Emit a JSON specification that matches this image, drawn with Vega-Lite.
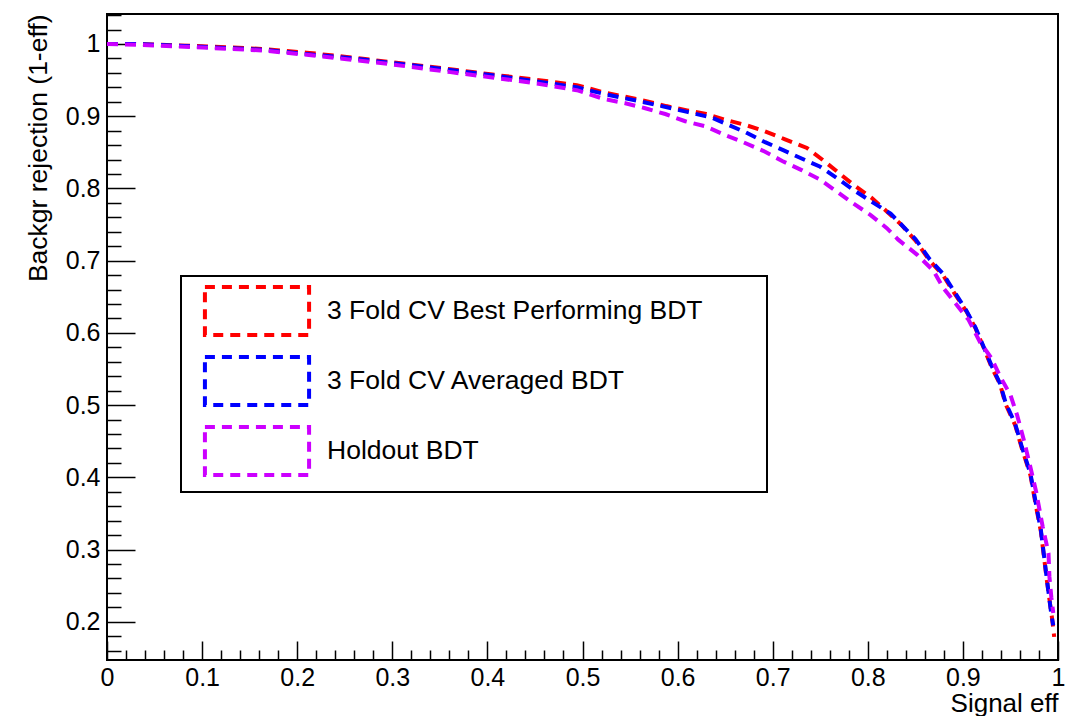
{
  "$schema": "https://vega.github.io/schema/vega-lite/v6.json",
  "width": 951,
  "height": 646,
  "autosize": {"type": "none"},
  "padding": {"left": 107, "top": 14, "right": 24, "bottom": 56},
  "background": "white",
  "config": {
    "view": {"stroke": "black", "strokeWidth": 2},
    "font": "Liberation Sans",
    "axis": {
      "domain": false,
      "grid": false,
      "labelFont": "Liberation Sans",
      "titleFont": "Liberation Sans",
      "labelColor": "black",
      "titleColor": "black",
      "tickColor": "black",
      "titleFontWeight": "normal",
      "labelFlush": false,
      "labelOverlap": false,
      "labelBound": false
    }
  },
  "data": {
    "values": [
      {"s": "3 Fold CV Best Performing BDT", "x": 0, "y": 1.0},
      {"s": "3 Fold CV Best Performing BDT", "x": 0.03, "y": 1.0},
      {"s": "3 Fold CV Best Performing BDT", "x": 0.1, "y": 0.997},
      {"s": "3 Fold CV Best Performing BDT", "x": 0.164, "y": 0.993},
      {"s": "3 Fold CV Best Performing BDT", "x": 0.21, "y": 0.988},
      {"s": "3 Fold CV Best Performing BDT", "x": 0.252, "y": 0.982},
      {"s": "3 Fold CV Best Performing BDT", "x": 0.298, "y": 0.975},
      {"s": "3 Fold CV Best Performing BDT", "x": 0.361, "y": 0.965},
      {"s": "3 Fold CV Best Performing BDT", "x": 0.403, "y": 0.958},
      {"s": "3 Fold CV Best Performing BDT", "x": 0.448, "y": 0.951},
      {"s": "3 Fold CV Best Performing BDT", "x": 0.494, "y": 0.943},
      {"s": "3 Fold CV Best Performing BDT", "x": 0.522, "y": 0.933},
      {"s": "3 Fold CV Best Performing BDT", "x": 0.545, "y": 0.927},
      {"s": "3 Fold CV Best Performing BDT", "x": 0.566, "y": 0.921},
      {"s": "3 Fold CV Best Performing BDT", "x": 0.588, "y": 0.914},
      {"s": "3 Fold CV Best Performing BDT", "x": 0.61, "y": 0.908},
      {"s": "3 Fold CV Best Performing BDT", "x": 0.63, "y": 0.903},
      {"s": "3 Fold CV Best Performing BDT", "x": 0.65, "y": 0.895},
      {"s": "3 Fold CV Best Performing BDT", "x": 0.671, "y": 0.888},
      {"s": "3 Fold CV Best Performing BDT", "x": 0.69, "y": 0.88},
      {"s": "3 Fold CV Best Performing BDT", "x": 0.713, "y": 0.868},
      {"s": "3 Fold CV Best Performing BDT", "x": 0.736, "y": 0.856},
      {"s": "3 Fold CV Best Performing BDT", "x": 0.752, "y": 0.84},
      {"s": "3 Fold CV Best Performing BDT", "x": 0.769, "y": 0.822},
      {"s": "3 Fold CV Best Performing BDT", "x": 0.785, "y": 0.805},
      {"s": "3 Fold CV Best Performing BDT", "x": 0.804, "y": 0.787},
      {"s": "3 Fold CV Best Performing BDT", "x": 0.82, "y": 0.768},
      {"s": "3 Fold CV Best Performing BDT", "x": 0.835, "y": 0.75},
      {"s": "3 Fold CV Best Performing BDT", "x": 0.85, "y": 0.728},
      {"s": "3 Fold CV Best Performing BDT", "x": 0.865, "y": 0.7},
      {"s": "3 Fold CV Best Performing BDT", "x": 0.879, "y": 0.68},
      {"s": "3 Fold CV Best Performing BDT", "x": 0.891, "y": 0.655},
      {"s": "3 Fold CV Best Performing BDT", "x": 0.904, "y": 0.629},
      {"s": "3 Fold CV Best Performing BDT", "x": 0.913, "y": 0.607},
      {"s": "3 Fold CV Best Performing BDT", "x": 0.922, "y": 0.579},
      {"s": "3 Fold CV Best Performing BDT", "x": 0.93, "y": 0.553},
      {"s": "3 Fold CV Best Performing BDT", "x": 0.939, "y": 0.529},
      {"s": "3 Fold CV Best Performing BDT", "x": 0.945, "y": 0.501},
      {"s": "3 Fold CV Best Performing BDT", "x": 0.955, "y": 0.472},
      {"s": "3 Fold CV Best Performing BDT", "x": 0.962, "y": 0.44},
      {"s": "3 Fold CV Best Performing BDT", "x": 0.971, "y": 0.403},
      {"s": "3 Fold CV Best Performing BDT", "x": 0.977, "y": 0.359},
      {"s": "3 Fold CV Best Performing BDT", "x": 0.982, "y": 0.325},
      {"s": "3 Fold CV Best Performing BDT", "x": 0.988, "y": 0.26},
      {"s": "3 Fold CV Best Performing BDT", "x": 0.994, "y": 0.202},
      {"s": "3 Fold CV Best Performing BDT", "x": 0.996, "y": 0.179},
      {"s": "3 Fold CV Averaged BDT", "x": 0, "y": 1.0},
      {"s": "3 Fold CV Averaged BDT", "x": 0.03, "y": 1.0},
      {"s": "3 Fold CV Averaged BDT", "x": 0.1, "y": 0.996},
      {"s": "3 Fold CV Averaged BDT", "x": 0.164, "y": 0.992},
      {"s": "3 Fold CV Averaged BDT", "x": 0.21, "y": 0.986},
      {"s": "3 Fold CV Averaged BDT", "x": 0.252, "y": 0.981},
      {"s": "3 Fold CV Averaged BDT", "x": 0.298, "y": 0.974},
      {"s": "3 Fold CV Averaged BDT", "x": 0.361, "y": 0.964},
      {"s": "3 Fold CV Averaged BDT", "x": 0.403, "y": 0.957},
      {"s": "3 Fold CV Averaged BDT", "x": 0.448, "y": 0.949},
      {"s": "3 Fold CV Averaged BDT", "x": 0.494, "y": 0.94},
      {"s": "3 Fold CV Averaged BDT", "x": 0.522, "y": 0.931},
      {"s": "3 Fold CV Averaged BDT", "x": 0.566, "y": 0.919},
      {"s": "3 Fold CV Averaged BDT", "x": 0.61, "y": 0.906},
      {"s": "3 Fold CV Averaged BDT", "x": 0.636, "y": 0.898},
      {"s": "3 Fold CV Averaged BDT", "x": 0.671, "y": 0.878},
      {"s": "3 Fold CV Averaged BDT", "x": 0.692, "y": 0.864},
      {"s": "3 Fold CV Averaged BDT", "x": 0.711, "y": 0.853},
      {"s": "3 Fold CV Averaged BDT", "x": 0.731, "y": 0.841},
      {"s": "3 Fold CV Averaged BDT", "x": 0.75, "y": 0.83},
      {"s": "3 Fold CV Averaged BDT", "x": 0.769, "y": 0.813},
      {"s": "3 Fold CV Averaged BDT", "x": 0.787, "y": 0.796},
      {"s": "3 Fold CV Averaged BDT", "x": 0.806, "y": 0.78},
      {"s": "3 Fold CV Averaged BDT", "x": 0.824, "y": 0.765},
      {"s": "3 Fold CV Averaged BDT", "x": 0.85, "y": 0.73},
      {"s": "3 Fold CV Averaged BDT", "x": 0.865, "y": 0.702},
      {"s": "3 Fold CV Averaged BDT", "x": 0.879, "y": 0.682},
      {"s": "3 Fold CV Averaged BDT", "x": 0.891, "y": 0.657},
      {"s": "3 Fold CV Averaged BDT", "x": 0.904, "y": 0.63},
      {"s": "3 Fold CV Averaged BDT", "x": 0.913, "y": 0.608},
      {"s": "3 Fold CV Averaged BDT", "x": 0.922, "y": 0.58},
      {"s": "3 Fold CV Averaged BDT", "x": 0.93, "y": 0.555},
      {"s": "3 Fold CV Averaged BDT", "x": 0.939, "y": 0.53},
      {"s": "3 Fold CV Averaged BDT", "x": 0.945, "y": 0.503},
      {"s": "3 Fold CV Averaged BDT", "x": 0.955, "y": 0.474},
      {"s": "3 Fold CV Averaged BDT", "x": 0.962, "y": 0.442},
      {"s": "3 Fold CV Averaged BDT", "x": 0.971, "y": 0.405},
      {"s": "3 Fold CV Averaged BDT", "x": 0.977, "y": 0.362},
      {"s": "3 Fold CV Averaged BDT", "x": 0.982, "y": 0.327},
      {"s": "3 Fold CV Averaged BDT", "x": 0.988, "y": 0.262},
      {"s": "3 Fold CV Averaged BDT", "x": 0.993, "y": 0.21},
      {"s": "3 Fold CV Averaged BDT", "x": 0.995, "y": 0.195},
      {"s": "Holdout BDT", "x": 0, "y": 1.0},
      {"s": "Holdout BDT", "x": 0.03, "y": 0.999},
      {"s": "Holdout BDT", "x": 0.1, "y": 0.995},
      {"s": "Holdout BDT", "x": 0.164, "y": 0.991},
      {"s": "Holdout BDT", "x": 0.21, "y": 0.985},
      {"s": "Holdout BDT", "x": 0.252, "y": 0.979},
      {"s": "Holdout BDT", "x": 0.298, "y": 0.972},
      {"s": "Holdout BDT", "x": 0.361, "y": 0.961},
      {"s": "Holdout BDT", "x": 0.403, "y": 0.954},
      {"s": "Holdout BDT", "x": 0.448, "y": 0.946},
      {"s": "Holdout BDT", "x": 0.494, "y": 0.936},
      {"s": "Holdout BDT", "x": 0.522, "y": 0.924},
      {"s": "Holdout BDT", "x": 0.545, "y": 0.918},
      {"s": "Holdout BDT", "x": 0.566, "y": 0.911},
      {"s": "Holdout BDT", "x": 0.587, "y": 0.903},
      {"s": "Holdout BDT", "x": 0.608, "y": 0.893},
      {"s": "Holdout BDT", "x": 0.629, "y": 0.886},
      {"s": "Holdout BDT", "x": 0.648, "y": 0.875},
      {"s": "Holdout BDT", "x": 0.669, "y": 0.864},
      {"s": "Holdout BDT", "x": 0.69, "y": 0.852},
      {"s": "Holdout BDT", "x": 0.71, "y": 0.838},
      {"s": "Holdout BDT", "x": 0.731, "y": 0.825},
      {"s": "Holdout BDT", "x": 0.75, "y": 0.812},
      {"s": "Holdout BDT", "x": 0.767, "y": 0.796},
      {"s": "Holdout BDT", "x": 0.784, "y": 0.78},
      {"s": "Holdout BDT", "x": 0.803, "y": 0.763},
      {"s": "Holdout BDT", "x": 0.82, "y": 0.745},
      {"s": "Holdout BDT", "x": 0.832, "y": 0.729},
      {"s": "Holdout BDT", "x": 0.852, "y": 0.708},
      {"s": "Holdout BDT", "x": 0.869, "y": 0.686},
      {"s": "Holdout BDT", "x": 0.879, "y": 0.663},
      {"s": "Holdout BDT", "x": 0.892, "y": 0.641},
      {"s": "Holdout BDT", "x": 0.906, "y": 0.618},
      {"s": "Holdout BDT", "x": 0.918, "y": 0.587},
      {"s": "Holdout BDT", "x": 0.93, "y": 0.565},
      {"s": "Holdout BDT", "x": 0.939, "y": 0.54},
      {"s": "Holdout BDT", "x": 0.95, "y": 0.514},
      {"s": "Holdout BDT", "x": 0.957, "y": 0.486},
      {"s": "Holdout BDT", "x": 0.964, "y": 0.452},
      {"s": "Holdout BDT", "x": 0.971, "y": 0.414},
      {"s": "Holdout BDT", "x": 0.977, "y": 0.38},
      {"s": "Holdout BDT", "x": 0.984, "y": 0.331},
      {"s": "Holdout BDT", "x": 0.99, "y": 0.295},
      {"s": "Holdout BDT", "x": 0.991, "y": 0.262},
      {"s": "Holdout BDT", "x": 0.993, "y": 0.234},
      {"s": "Holdout BDT", "x": 0.995, "y": 0.212}
    ]
  },
  "layer": [
    {
      "mark": {"type": "line", "strokeWidth": 4, "strokeDash": [11, 7]},
      "encoding": {
        "x": {
          "field": "x", "type": "quantitative",
          "scale": {"domain": [0, 1], "nice": false, "zero": false},
          "axis": {
            "orient": "bottom",
            "values": [0, 0.1, 0.2, 0.3, 0.4, 0.5, 0.6, 0.7, 0.8, 0.9, 1],
            "format": "~g",
            "ticks": false,
            "labelFontSize": 25,
            "labelPadding": 5,
            "title": "Signal eff",
            "titleFontSize": 26,
            "titleAnchor": "end",
            "titlePadding": 0
          }
        },
        "y": {
          "field": "y", "type": "quantitative",
          "scale": {"domain": [0.147, 1.0415], "nice": false, "zero": false},
          "axis": {
            "orient": "left",
            "values": [0.2, 0.3, 0.4, 0.5, 0.6, 0.7, 0.8, 0.9, 1],
            "format": "~g",
            "ticks": false,
            "labelFontSize": 25,
            "labelPadding": 7,
            "title": "Backgr rejection (1-eff)",
            "titleFontSize": 26.5,
            "titleAnchor": "end",
            "titlePadding": 13
          }
        },
        "color": {
          "field": "s", "type": "nominal",
          "scale": {
            "domain": ["3 Fold CV Best Performing BDT", "3 Fold CV Averaged BDT", "Holdout BDT"],
            "range": ["#ff0000", "#0000ff", "#cc00ff"]
          },
          "legend": {
            "orient": "none",
            "legendX": 74,
            "legendY": 262,
            "title": "\u00a0",
            "titleOrient": "right",
            "titleFontSize": 1,
            "titlePadding": 55,
            "padding": 9,
            "fillColor": "white",
            "strokeColor": "black",
            "symbolType": "M-2.17,-1H2.17V1H-2.17Z",
            "symbolSize": 2304,
            "symbolStrokeWidth": 4,
            "symbolDash": [10, 7],
            "symbolFillColor": "transparent",
            "symbolOffset": 41,
            "labelOffset": 44,
            "labelFontSize": 26.5,
            "labelFont": "Liberation Sans",
            "labelColor": "black",
            "labelLimit": 0,
            "rowPadding": 6,
            "encode": {"legend": {"update": {"strokeWidth": {"value": 2}}}}
          }
        }
      }
    },
    {
      "mark": {"type": "point", "opacity": 0},
      "encoding": {
        "x": {
          "field": "x", "type": "quantitative",
          "axis": {
            "orient": "bottom",
            "values": [0, 0.1, 0.2, 0.3, 0.4, 0.5, 0.6, 0.7, 0.8, 0.9, 1],
            "labels": false, "title": null, "tickSize": -19, "tickWidth": 1.5
          }
        },
        "y": {
          "field": "y", "type": "quantitative",
          "axis": {
            "orient": "left",
            "values": [0.2, 0.3, 0.4, 0.5, 0.6, 0.7, 0.8, 0.9, 1],
            "labels": false, "title": null, "tickSize": -28, "tickWidth": 1.5
          }
        }
      }
    },
    {
      "mark": {"type": "point", "opacity": 0},
      "encoding": {
        "x": {
          "field": "x", "type": "quantitative",
          "axis": {
            "orient": "bottom",
            "values": [0.02, 0.04, 0.06, 0.08, 0.12, 0.14, 0.16, 0.18, 0.22, 0.24, 0.26, 0.28, 0.32, 0.34, 0.36, 0.38, 0.42, 0.44, 0.46, 0.48, 0.52, 0.54, 0.56, 0.58, 0.62, 0.64, 0.66, 0.68, 0.72, 0.74, 0.76, 0.78, 0.82, 0.84, 0.86, 0.88, 0.92, 0.94, 0.96, 0.98],
            "labels": false, "title": null, "tickSize": -10, "tickWidth": 1.5
          }
        },
        "y": {
          "field": "y", "type": "quantitative",
          "axis": {
            "orient": "left",
            "values": [0.16, 0.18, 0.22, 0.24, 0.26, 0.28, 0.32, 0.34, 0.36, 0.38, 0.42, 0.44, 0.46, 0.48, 0.52, 0.54, 0.56, 0.58, 0.62, 0.64, 0.66, 0.68, 0.72, 0.74, 0.76, 0.78, 0.82, 0.84, 0.86, 0.88, 0.92, 0.94, 0.96, 0.98, 1.02, 1.04],
            "labels": false, "title": null, "tickSize": -14, "tickWidth": 1.5
          }
        }
      }
    }
  ],
  "resolve": {"axis": {"x": "independent", "y": "independent"}}
}
